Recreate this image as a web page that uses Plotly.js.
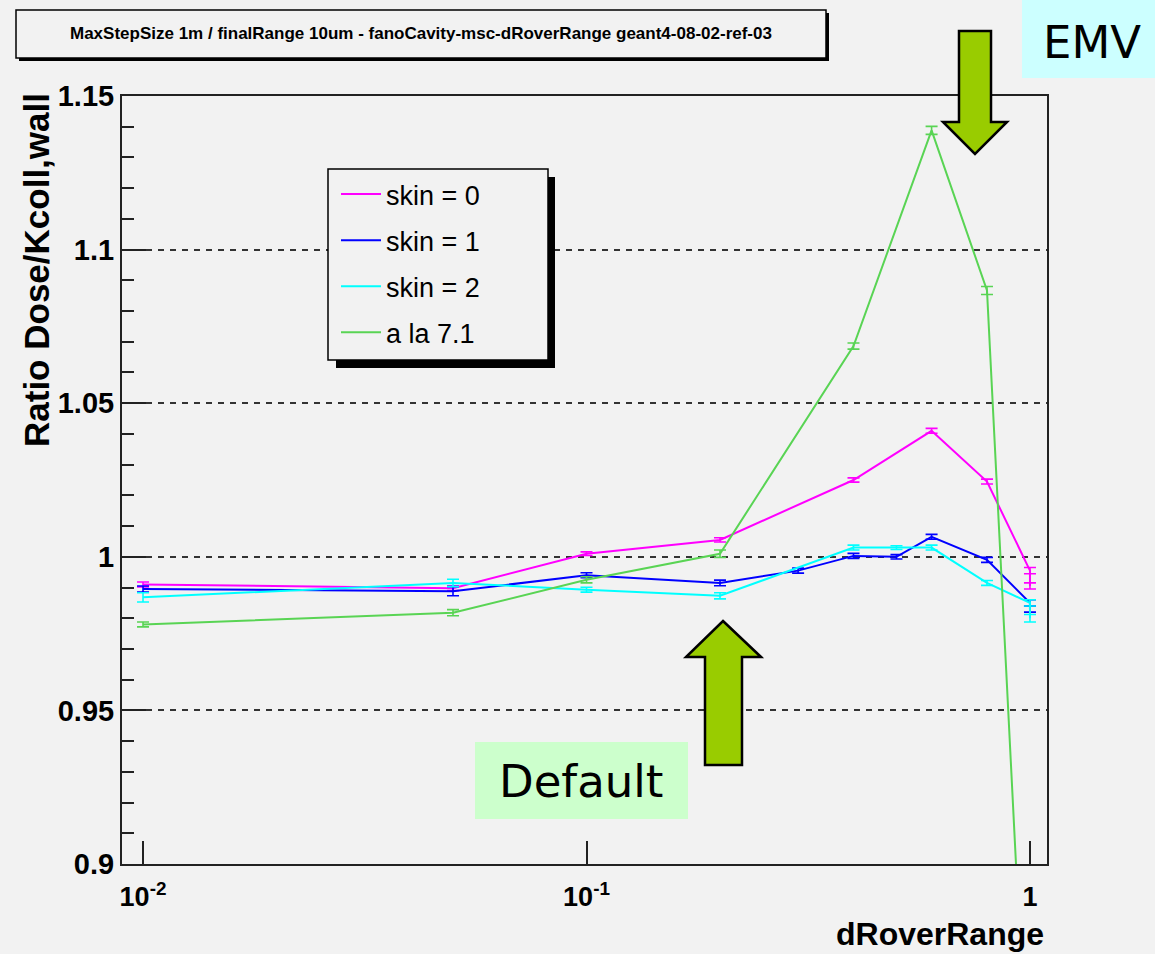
<!DOCTYPE html>
<html>
<head>
<meta charset="utf-8">
<script src="https://cdn.plot.ly/plotly-3.0.1.min.js"></script>
<style>html,body{margin:0;padding:0;background:#f2f2f2;}#chart{width:1155px;height:954px;}</style>
</head>
<body>
<div id="chart"></div>
<script>
// ---- data ----
const seriesNames = ["skin = 0", "skin = 1", "skin = 2", "a la 7.1"];
const seriesColors = ["#ff00ff", "#0000ff", "#00ffff", "#59d454"];

const xSkin0 = [0.01, 0.05, 0.1, 0.2, 0.4, 0.6, 0.8, 1.0, 1.0];
const ySkin0 = [0.9910, 0.9898, 1.0010, 1.0055, 1.0250, 1.0410, 1.0245, 0.9955, 0.9905];
const eSkin0 = [0.0008, 0.0008, 0.0006, 0.0007, 0.0007, 0.0008, 0.0008, 0.0010, 0.0010];

const xSkin1 = [0.01, 0.05, 0.1, 0.2, 0.3, 0.4, 0.5, 0.6, 0.8, 1.0, 1.0];
const ySkin1 = [0.9895, 0.9888, 0.9940, 0.9915, 0.9955, 1.0003, 1.0000, 1.0065, 0.9990, 0.9850, 0.9830];
const eSkin1 = [0.0010, 0.0015, 0.0008, 0.0009, 0.0008, 0.0008, 0.0007, 0.0008, 0.0008, 0.0010, 0.0010];

const xSkin2 = [0.01, 0.05, 0.1, 0.2, 0.4, 0.5, 0.6, 0.8, 1.0, 1.0];
const ySkin2 = [0.9868, 0.9915, 0.9893, 0.9873, 1.0030, 1.0030, 1.0030, 0.9915, 0.9850, 0.9800];
const eSkin2 = [0.0015, 0.0012, 0.0008, 0.0010, 0.0008, 0.0006, 0.0008, 0.0008, 0.0010, 0.0012];

const xAla71 = [0.01, 0.05, 0.1, 0.2, 0.4, 0.6, 0.8, 1.0];
const yAla71 = [0.9780, 0.9818, 0.9925, 1.0010, 1.0686, 1.1388, 1.0867, 0.8100];
const eAla71 = [0.0008, 0.0010, 0.0010, 0.0012, 0.0010, 0.0013, 0.0013, 0.0015];

const majorTickVals = [0.01, 0.1, 1];
const majorTickText = ["10<sup>-2</sup>", "10<sup>-1</sup>", "1"];
const minorTickVals = [0.02,0.03,0.04,0.05,0.06,0.07,0.08,0.09,0.2,0.3,0.4,0.5,0.6,0.7,0.8,0.9];

const titleText = "MaxStepSize 1m / finalRange 10um - fanoCavity-msc-dRoverRange geant4-08-02-ref-03";
const yTitle = "Ratio Dose/Kcoll,wall";
const xTitle = "dRoverRange";

// ---- geometry helpers (pixel -> paper) ----
const W = 1155, H = 954, L = 122, R = 1047, T = 96, B = 864;
const px = x => (x - L) / (R - L);
const py = y => (B - y) / (B - T);
const pathOf = pts => "M" + pts.map(p => px(p[0]).toFixed(5) + "," + py(p[1]).toFixed(5)).join(" L") + " Z";

const sans = "Liberation Sans, Arial, Helvetica, sans-serif";

const xs = [xSkin0, xSkin1, xSkin2, xAla71];
const ys = [ySkin0, ySkin1, ySkin2, yAla71];
const es = [eSkin0, eSkin1, eSkin2, eAla71];

const traces = seriesNames.map((n, i) => ({
  type: "scatter", mode: "lines", name: n, legendgroup: "g" + i,
  x: xs[i], y: ys[i],
  line: {color: seriesColors[i], width: 2},
  error_y: {type: "data", array: es[i], visible: true, color: seriesColors[i], thickness: 1.6, width: 6}
}));

const shapes = [
  // title box shadow + box
  {type: "rect", xref: "paper", yref: "paper", x0: px(19), x1: px(829), y0: py(13), y1: py(61), fillcolor: "#000", line: {width: 0}, layer: "above"},
  {type: "rect", xref: "paper", yref: "paper", x0: px(16), x1: px(826), y0: py(10), y1: py(58), fillcolor: "#f2f2f2", line: {color: "#000", width: 1.5}, layer: "above"},
  // legend box shadow + box
  {type: "rect", xref: "paper", yref: "paper", x0: px(336), x1: px(555), y0: py(177), y1: py(368), fillcolor: "#000", line: {width: 0}, layer: "above"},
  {type: "rect", xref: "paper", yref: "paper", x0: px(328), x1: px(548), y0: py(169), y1: py(360), fillcolor: "#f2f2f2", line: {color: "#000", width: 1.5}, layer: "above"},
  // EMV label box
  {type: "rect", xref: "paper", yref: "paper", x0: px(1022), x1: px(1160), y0: py(-5), y1: py(78), fillcolor: "#ccffff", line: {width: 0}, layer: "above"},
  // Default label box
  {type: "rect", xref: "paper", yref: "paper", x0: px(475), x1: px(688), y0: py(742), y1: py(819), fillcolor: "#ccffcc", line: {width: 0}, layer: "above"},
  // EMV arrow (down)
  {type: "path", xref: "paper", yref: "paper", layer: "above",
   path: pathOf([[959,31],[991,31],[991,122],[1007,122],[975,154],[943,122],[959,122]]),
   fillcolor: "#99cc00", line: {color: "#000", width: 2.5}},
  // Default arrow (up)
  {type: "path", xref: "paper", yref: "paper", layer: "above",
   path: pathOf([[723,621],[761,657],[742,657],[742,765],[705,765],[705,657],[686,657]]),
   fillcolor: "#99cc00", line: {color: "#000", width: 2.5}}
];

const annotations = [
  {xref: "paper", yref: "paper", x: px(421), y: py(33), text: "<b>" + titleText + "</b>", showarrow: false,
   xanchor: "center", yanchor: "middle", font: {family: sans, size: 17, color: "#000"}},
  {xref: "paper", yref: "paper", x: px(36), y: py(270), text: "<b>" + yTitle + "</b>", showarrow: false,
   textangle: -90, xanchor: "center", yanchor: "middle", font: {family: sans, size: 35, color: "#000"}},
  {xref: "paper", yref: "paper", x: px(1046), y: py(934), text: "<b>" + xTitle + "</b>", showarrow: false,
   xanchor: "right", yanchor: "middle", font: {family: sans, size: 32, color: "#000"}},
  {xref: "paper", yref: "paper", x: px(1092), y: py(42), text: "EMV", showarrow: false,
   xanchor: "center", yanchor: "middle", font: {family: "DejaVu Sans, Verdana, sans-serif", size: 45, color: "#000"}},
  {xref: "paper", yref: "paper", x: px(581), y: py(781), text: "Default", showarrow: false,
   xanchor: "center", yanchor: "middle", font: {family: "DejaVu Sans, Verdana, sans-serif", size: 45, color: "#000"}}
];

const layout = {
  width: W, height: H,
  margin: {l: L, r: W - R, t: T, b: H - B, pad: 0},
  paper_bgcolor: "#f2f2f2", plot_bgcolor: "#f2f2f2",
  showlegend: true,
  legend: {x: px(336), y: py(170), xanchor: "left", yanchor: "top", bgcolor: "rgba(0,0,0,0)", borderwidth: 0,
           itemwidth: 40,
           font: {family: sans, size: 27, color: "#000"}, tracegroupgap: 8, traceorder: "grouped"},
  xaxis: {type: "log", range: [-2.0474, 0.0384], tickmode: "array", tickvals: majorTickVals, ticktext: majorTickText,
          ticks: "inside", ticklen: 23, tickwidth: 2, tickcolor: "#222", ticklabelstandoff: 8,
          showline: true, linecolor: "#222", linewidth: 2, mirror: true, showgrid: false, zeroline: false,
          tickfont: {family: sans, size: 27, color: "#000", weight: "bold"}},
  xaxis2: {type: "log", range: [-2.0474, 0.0384], overlaying: "x", anchor: "y", side: "bottom",
           tickmode: "array", tickvals: minorTickVals, ticks: "inside", ticklen: 12, tickwidth: 2, tickcolor: "#222",
           showticklabels: false, showline: false, showgrid: false, zeroline: false},
  yaxis: {range: [0.9, 1.15], dtick: 0.05, tick0: 0.9, ticks: "inside", ticklen: 24, tickwidth: 2, tickcolor: "#222",
          minor: {dtick: 0.01, ticks: "inside", ticklen: 12, tickwidth: 2, tickcolor: "#222", showgrid: false},
          showline: true, linecolor: "#222", linewidth: 2, mirror: true, zeroline: false,
          showgrid: true, gridcolor: "#333", gridwidth: 2, griddash: "6px,6px",
          tickfont: {family: sans, size: 29, color: "#000", weight: "bold"}},
  shapes: shapes,
  annotations: annotations
};

Plotly.newPlot("chart", traces, layout, {displayModeBar: false, staticPlot: true});
</script>
</body>
</html>
